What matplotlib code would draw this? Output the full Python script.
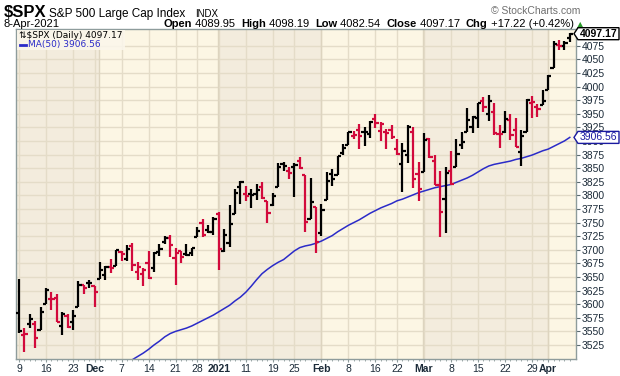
import numpy as np
import matplotlib
matplotlib.use('Agg')
import matplotlib.pyplot as plt
from matplotlib.patches import Polygon, Rectangle
from matplotlib.transforms import IdentityTransform

# $SPX daily bars, 9-Nov-2020 .. 8-Apr-2021 (trading days)
opens = [3583, 3543, 3563, 3563, 3553, 3600, 3610, 3612, 3559, 3579, 3567, 3595, 3636, 3639, 3634,
         3646, 3654, 3668, 3671, 3695, 3683, 3706, 3659, 3656, 3675, 3666, 3696, 3714, 3722, 3684, 3698,
         3693, 3694, 3723, 3750, 3736, 3733,
         3765, 3698, 3712, 3765, 3815, 3803, 3802, 3802, 3815, 3789, 3782, 3816, 3857, 3844, 3852, 3863,
         3837, 3756, 3778,
         3731, 3792, 3840, 3837, 3878, 3893, 3910, 3921, 3916, 3912, 3940, 3919, 3916, 3921, 3886, 3857,
         3874, 3916, 3840,
         3843, 3904, 3864, 3819, 3794, 3844, 3852, 3892, 3916, 3925, 3943, 3974, 3950, 3954, 3913, 3916,
         3938, 3920, 3879, 3917, 3969, 3963, 3967,
         3993, 4034, 4076, 4074, 4089.95]
highs = [3646, 3557, 3581, 3569, 3594, 3629, 3623, 3619, 3585, 3581, 3590, 3642, 3636, 3644, 3634,
         3678, 3671, 3683, 3699, 3697, 3708, 3712, 3678, 3666, 3698, 3695, 3711, 3725, 3727, 3703, 3698,
         3711, 3704, 3741, 3756, 3745, 3760,
         3770, 3738, 3783, 3812, 3827, 3818, 3811, 3821, 3824, 3789, 3805, 3860, 3861, 3852, 3859, 3871,
         3837, 3831, 3778,
         3784, 3843, 3848, 3872, 3895, 3916, 3918, 3932, 3926, 3937, 3950, 3934, 3922, 3930, 3903, 3896,
         3929, 3925, 3861,
         3915, 3906, 3874, 3844, 3852, 3881, 3904, 3917, 3960, 3945, 3970, 3981, 3984, 3970, 3930, 3955,
         3949, 3942, 3920, 3978, 3982, 3968, 3994,
         4021, 4083, 4086, 4083, 4098.19]
lows = [3547, 3512, 3557, 3519, 3553, 3600, 3589, 3567, 3544, 3557, 3553, 3595, 3618, 3629, 3594,
        3646, 3645, 3657, 3671, 3679, 3679, 3661, 3645, 3633, 3646, 3660, 3689, 3711, 3686, 3636, 3676,
        3689, 3689, 3723, 3723, 3730, 3727,
        3663, 3695, 3705, 3765, 3784, 3789, 3777, 3792, 3793, 3750, 3780, 3816, 3845, 3830, 3797, 3848,
        3732, 3756, 3694,
        3726, 3792, 3817, 3837, 3875, 3893, 3903, 3885, 3890, 3906, 3924, 3900, 3885, 3903, 3875, 3806,
        3860, 3814, 3790,
        3843, 3869, 3819, 3723, 3730, 3819, 3852, 3886, 3916, 3915, 3924, 3953, 3936, 3911, 3887, 3914,
        3902, 3889, 3854, 3917, 3943, 3944, 3967,
        3993, 4034, 4068, 4068, 4082.54]
closes = [3550.5, 3545.5, 3572.7, 3537.0, 3585.2, 3626.9, 3609.5, 3567.8, 3581.9, 3557.5, 3577.6,
          3635.4, 3629.7, 3638.4, 3621.6,
          3662.5, 3669.0, 3666.7, 3699.1, 3692.0, 3702.3, 3672.8, 3668.1, 3663.5, 3647.5, 3694.6, 3701.2,
          3722.5, 3709.4, 3694.9, 3687.3, 3690.0, 3703.1, 3735.4, 3727.0, 3732.0, 3756.1,
          3700.7, 3726.9, 3748.1, 3803.8, 3824.7, 3799.6, 3801.2, 3809.8, 3795.5, 3768.3, 3798.9, 3851.9,
          3853.1, 3841.5, 3855.4, 3849.6, 3750.8, 3787.4, 3714.2,
          3773.9, 3826.3, 3830.2, 3871.7, 3886.8, 3915.6, 3911.2, 3909.9, 3916.4, 3934.8, 3932.6, 3931.3,
          3914.0, 3906.7, 3876.5, 3881.4, 3925.4, 3829.3, 3811.2,
          3901.8, 3870.3, 3819.7, 3768.5, 3841.9, 3821.4, 3875.4, 3898.8, 3939.3, 3943.3, 3968.9, 3962.7,
          3974.1, 3915.5, 3913.1, 3940.6, 3910.5, 3889.1, 3909.5, 3974.5, 3971.1, 3958.6, 3972.9,
          4019.9, 4077.9, 4073.9, 4080.0, 4097.17]
prev_close = 3509.4  # 6-Nov close, colours the first bar

# 50-day moving average, starting at bar 20
ma_first = 20
ma50 = [3492, 3498, 3504, 3510, 3517, 3525, 3532, 3540, 3546, 3550, 3553, 3556, 3560, 3565, 3570,
        3575, 3580, 3586, 3592, 3598, 3606, 3613, 3622, 3633, 3645, 3656, 3664, 3671, 3677, 3682,
        3690, 3698, 3704, 3707, 3709, 3712, 3716, 3721, 3726, 3733, 3739, 3745, 3750, 3755, 3761,
        3767, 3772, 3777, 3781, 3785, 3790, 3793, 3797, 3801, 3805, 3808, 3811, 3814, 3816, 3818,
        3820, 3824, 3828, 3832, 3837, 3843, 3849, 3854, 3857, 3859, 3861, 3863, 3866, 3868, 3871,
        3874, 3878, 3882, 3885, 3890, 3895, 3900, 3906.56]

tick_idx = [0, 5, 10, 14, 19, 24, 29, 33, 37, 42, 47, 51, 56, 61, 66, 70, 75, 80, 85, 90, 95, 98]
tick_labels = ['9', '16', '23', 'Dec', '7', '14', '21', '28', '2021', '11', '19', '25',
               'Feb', '8', '16', '22', 'Mar', '8', '15', '22', '29', 'Apr']
month_starts = [15, 37, 56, 75, 98]
price_ticks = list(range(3525, 4100, 25))

W, H = 620, 376
RED = '#d20a3c'
BLUE = '#2b2bc8'
LIGHT = '#fcf6e4'
DARK = '#f3ecdd'
GRID = '#e4dcc8'

plt.rcParams['font.family'] = ['Liberation Sans', 'DejaVu Sans']

fig = plt.figure(figsize=(W / 100, H / 100), dpi=100)
fig.patch.set_facecolor('white')
ax = fig.add_axes([16 / W, 17 / H, 560 / W, 347 / H - 17 / H])

n = len(closes)
x = np.arange(n)
c = np.array(closes)
prev = np.concatenate([[prev_close], c[:-1]])
cols = np.where(c >= prev, 'black', RED)

ax.set_xlim(-0.56, 103.15)
ax.set_ylim(3499.2, 4105.8)

# month bands
ax.set_facecolor(LIGHT)
bounds = [-1] + [m - 0.1 for m in month_starts] + [110]
for k in range(len(bounds) - 1):
    if k % 2 == 0:
        ax.axvspan(bounds[k], bounds[k + 1], color=DARK, lw=0, zorder=0)
for m in month_starts:
    ax.axvline(m - 0.1, color='#ddd4bf', lw=1, zorder=0.6)

ax.set_axisbelow(True)
ax.grid(True, color=GRID, lw=1)

# OHLC bars
ax.vlines(x, lows, highs, colors=cols, lw=1.6, zorder=3)
ax.hlines(opens, x - 0.58, x, colors=cols, lw=1.6, zorder=3)
ax.hlines(closes, x, x + 0.58, colors=cols, lw=1.6, zorder=3)

ma_x = np.arange(ma_first, ma_first + len(ma50))
ax.plot(ma_x, ma50, color=BLUE, lw=1.1, zorder=2)

# axes styling
for s in ax.spines.values():
    s.set_color('#8e9c9c')
    s.set_linewidth(1)
ax.yaxis.tick_right()
ax.set_yticks(price_ticks)
ax.tick_params(axis='y', length=3, width=0.8, color='#5a6a70', pad=1,
               labelsize=7.5, labelcolor='#1c2b39')
ax.set_xticks(tick_idx, tick_labels)
ax.set_xticks(x, minor=True)
ax.tick_params(axis='x', which='major', length=2.5, width=0.8, color='#8e9c9c', pad=1,
               labelsize=7.5, labelcolor='#1c2b39')
ax.tick_params(axis='x', which='minor', length=1.5, width=0.6, color='#8e9c9c')
for lab in ax.get_xticklabels():
    if not lab.get_text().isdigit() or lab.get_text() == '2021':
        lab.set_fontweight('bold')


def ftext(px, py, s, **kw):
    return fig.text(px / W, 1 - py / H, s, **kw)


# header
ftext(4, 17, '$SPX', fontsize=12, fontweight='bold', va='baseline')
ftext(49, 17, 'S&P 500 Large Cap Index', fontsize=8.5, va='baseline')
ftext(195, 17, 'INDX', fontsize=7, va='baseline')
ftext(580, 14, '\u00a9 StockCharts.com', ha='right', fontsize=7.5, color='#707070', va='baseline')
ftext(3, 27, '8-Apr-2021', fontsize=8, va='baseline')

renderer = fig.canvas.get_renderer()
pieces = [('Open', True), (' 4089.95  ', False), ('High', True), (' 4098.19  ', False),
          ('Low', True), (' 4082.54  ', False), ('Close', True), (' 4097.17  ', False),
          ('Chg', True), (' +17.22 (+0.42%)', False)]
cx = 163
for s, b in pieces:
    t = ftext(cx, 27, s, fontsize=8, fontweight='bold' if b else 'normal', va='baseline')
    cx = t.get_window_extent(renderer).x1
ftext(cx + 3, 27, '\u25b2', fontsize=6, color='#2a9a2a', va='baseline', family=['DejaVu Sans'])

# legend
fig.add_artist(Rectangle(((17) / W, 1 - 50 / H), 108 / W, 20 / H, transform=fig.transFigure,
                         facecolor='#fbf7ec', edgecolor='none', alpha=0.85, zorder=4))
ftext(19, 35, '\u21c5$SPX (Daily) 4097.17', fontsize=6.5, va='center', family=['DejaVu Sans'],
      zorder=5)
fig.add_artist(plt.Line2D([20 / W, 26 / W], [1 - 45 / H, 1 - 45 / H], color=BLUE, lw=2,
                          transform=fig.transFigure, zorder=5))
ftext(28, 45, 'MA(50) 3906.56', fontsize=6.5, va='center', color=BLUE, family=['DejaVu Sans'],
      zorder=5)


# value flags on the right axis
def flag(value, text, ec, tc, bold):
    yd = ax.transData.transform((0, value))[1]
    pts = [(574, yd), (578, yd + 6), (619, yd + 6), (619, yd - 6), (578, yd - 6)]
    fig.add_artist(Polygon(pts, closed=True, transform=IdentityTransform(), facecolor='white',
                           edgecolor=ec, lw=1, zorder=6))
    fig.text(598.5 / W, yd / H, text, ha='center', va='center', fontsize=7.5, color=tc,
             fontweight='bold' if bold else 'normal', zorder=7)


flag(closes[-1], '4097.17', 'black', 'black', True)
flag(ma50[-1], '3906.56', '#1a1aa0', '#1a1aa0', False)

fig.savefig('out.png', dpi=100)
